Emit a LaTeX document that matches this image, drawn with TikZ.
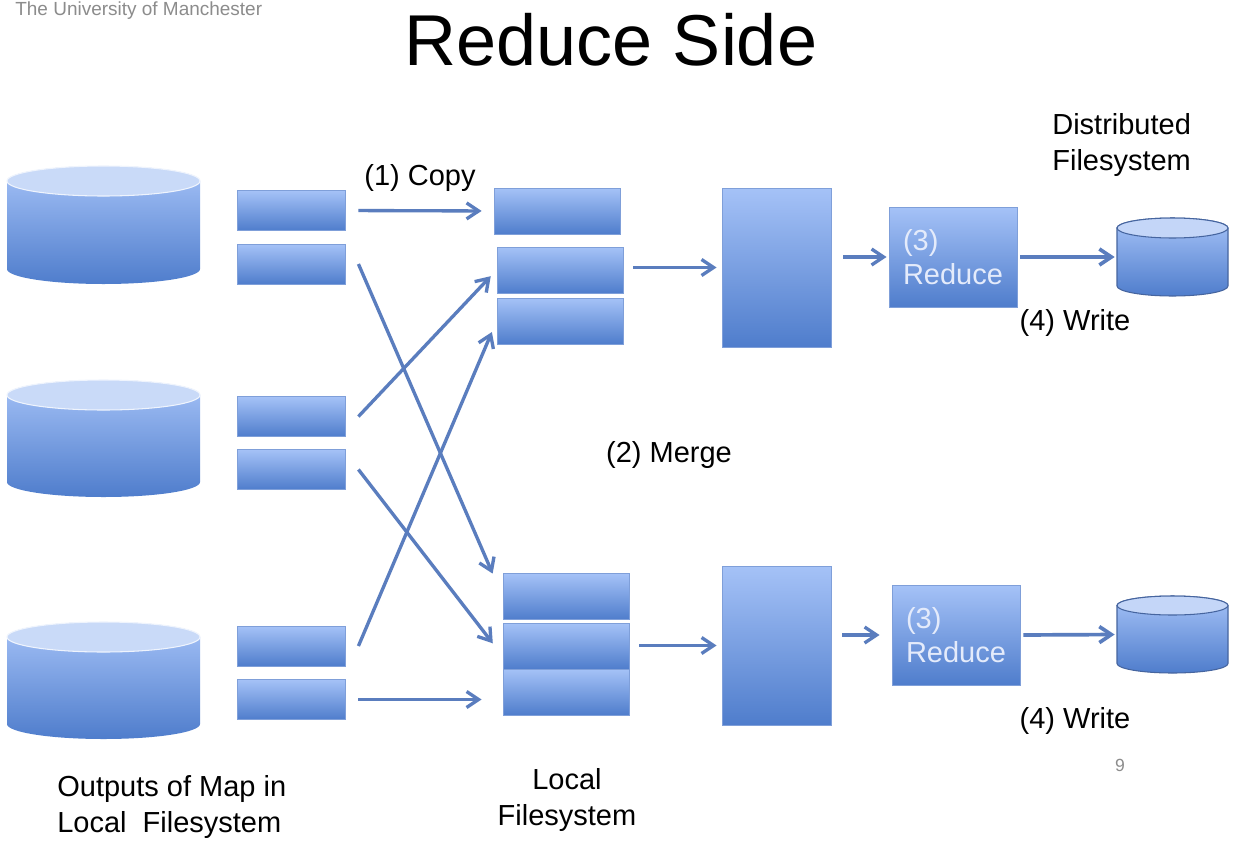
\documentclass[tikz,border=0pt]{standalone}
\usepackage{fontspec}
\setmainfont{Liberation Sans}
\usepackage{tikz}
\usepackage{xcolor}
\usetikzlibrary{arrows.meta,calc}
\definecolor{boxtop}{HTML}{A5C2F7}
\definecolor{boxbot}{HTML}{4F7DCC}
\definecolor{boxedge}{HTML}{7F9FD9}
\definecolor{flowblue}{HTML}{5A7DBE}
\definecolor{drumcap}{HTML}{C9DAF8}
\definecolor{drumline}{HTML}{46659F}
\definecolor{reducetext}{HTML}{E4EBFB}
\definecolor{pagegray}{HTML}{8C8C8C}
% drum: style, name, left x, top y, right x, bottom y, cap radius (pixels from top left)
\newcommand{\drum}[7]{%
  \path[#1] (#3,-#4-#7) -- (#3,-#6+#7)
    arc[start angle=180,end angle=360,x radius={(#5-#3)/2},y radius=#7]
    -- (#5,-#4-#7)
    arc[start angle=0,end angle=180,x radius={(#5-#3)/2},y radius=#7] -- cycle;
  \path[#1cap] ({(#3+#5)/2},-#4-#7) ellipse[x radius={(#5-#3)/2},y radius=#7];
  \node[inner sep=0pt,minimum width={(#5-#3)*0.02cm},minimum height={(#6-#4)*0.02cm}]
    (#2) at ({(#3+#5)/2},{-(#4+#6)/2}) {};
}
\tikzset{
  chunk/.style={draw=boxedge,line width=0.5pt,top color=boxtop,bottom color=boxbot,
                inner sep=0pt},
  mapout/.style={chunk,minimum width=2.16cm,minimum height=0.8cm},
  part/.style={chunk,minimum width=2.52cm,minimum height=0.92cm},
  merged/.style={chunk,minimum width=2.18cm,minimum height=3.18cm},
  reducer/.style={chunk,minimum width=2.56cm,minimum height=2cm,align=left,
                  text=reducetext,font=\fontsize{16.5}{19.5}\selectfont},
  ldrum/.style={top color=boxtop,bottom color=boxbot},
  ldrumcap/.style={fill=drumcap,draw=white!70!drumcap,line width=0.6pt},
  rdrum/.style={top color=boxtop,bottom color=boxbot,draw=drumline,line width=0.6pt},
  rdrumcap/.style={fill=drumcap!85!boxtop,draw=drumline,line width=0.6pt},
  flow/.style={-{Straight Barb[length=2.4mm,width=3.2mm]},line width=1.9pt,draw=flowblue},
  writeflow/.style={flow,line width=2.1pt},
  lbl/.style={font=\fontsize{16.5}{20}\selectfont,inner sep=0pt,text=black}
}
\begin{document}
\begin{tikzpicture}[x=0.02cm,y=0.02cm]
  \fill[white] (0,0) rectangle (1257,-842);
  \path[use as bounding box] (0,0) rectangle (1257,-842);
  \node[anchor=base west,inner sep=0pt,text=pagegray,font=\fontsize{10.8}{13}\selectfont]
    (uni) at (15,-15) {The University of Manchester};
  \node[anchor=base,inner sep=0pt,font=\fontsize{41}{48}\selectfont] (title) at (611,-65)
    {Reduce Side};
  % map side disks and outputs
  \drum{ldrum}{d1}{7}{166}{200}{284}{15}
  \drum{ldrum}{d2}{7}{380}{200}{497}{15}
  \drum{ldrum}{d3}{7}{622}{200}{739}{15}
  \node[mapout] (l1) at (291,-210.5) {};
  \node[mapout] (l2) at (291,-264) {};
  \node[mapout] (l3) at (291,-416.5) {};
  \node[mapout] (l4) at (291,-469.5) {};
  \node[mapout] (l5) at (291,-646) {};
  \node[mapout] (l6) at (291,-699.5) {};
  % local filesystem of each reducer
  \node[part] (t1) at (557,-211) {};
  \node[part] (t2) at (560,-270) {};
  \node[part] (t3) at (560,-321) {};
  \node[part] (b1) at (566,-596.5) {};
  \node[part] (b2) at (566,-646) {};
  \node[part] (b3) at (566,-692) {};
  \node[merged] (m1) at (776.5,-267.5) {};
  \node[merged] (m2) at (776.5,-645.5) {};
  \node[reducer] (r1) at (953,-257) {(3)\\Reduce};
  \node[reducer] (r2) at (956,-635) {(3)\\Reduce};
  \drum{rdrum}{c1}{1117}{218}{1228}{296}{10}
  \drum{rdrum}{c2}{1117}{596}{1228}{673}{9.5}
  % copy
  \draw[flow,shorten <=2.6mm,shorten >=2.4mm] (l1.east) -- (t1.west);
  \draw[flow,shorten >=5mm] ([xshift=2.6mm]l2.east) -- (b1.west);
  \draw[flow,shorten >=1.7mm] ([xshift=2.6mm]l3.east) -- (t2.west);
  \draw[flow,shorten >=3.2mm] ([xshift=2.6mm]l4.east) -- ([yshift=-2mm]b2.west);
  \draw[flow,shorten >=2.4mm] ([xshift=2.6mm]l5.east) -- (t3.west);
  \draw[flow,shorten <=2.6mm,shorten >=4.2mm] (l6.east) -- (l6.east -| b3.west);
  % merge, reduce, write
  \draw[flow,shorten <=2mm,shorten >=1mm] (t2.east |- m1) -- (m1.west);
  \draw[flow,shorten <=2mm,shorten >=1mm] (b2.east |- m2) -- (m2.west);
  \draw[flow,shorten <=2.4mm,shorten >=0.4mm] (m1.east |- r1) -- (r1.west);
  \draw[flow,shorten <=2.2mm,shorten >=2.4mm] (m2.east |- r2) -- (r2.west);
  \draw[writeflow,shorten <=0.6mm,shorten >=0.4mm] (r1.east) -- (c1.west);
  \draw[writeflow,shorten <=0.6mm,shorten >=0.4mm] (r2.east) -- (c2.west);
  % labels
  \node[lbl,anchor=base] (copy) at (420,-185) {(1) Copy};
  \node[lbl,anchor=base] (merge) at (669,-462) {(2) Merge};
  \node[lbl,anchor=base] (write1) at (1075,-330) {(4) Write};
  \node[lbl,anchor=base] (write2) at (1075,-728) {(4) Write};
  \node[lbl,anchor=west,align=left] (dfs) at (1052,-145) {Distributed\\Filesystem};
  \node[lbl,anchor=west,align=left] (mapfs) at (57,-807) {Outputs of Map in\\Local\ \ Filesystem};
  \node[lbl,align=center] (localfs) at (567,-800) {Local\\Filesystem};
  \node[anchor=base,inner sep=0pt,text=pagegray,font=\fontsize{10}{12}\selectfont]
    (page) at (1120,-771) {9};
\end{tikzpicture}
\end{document}
